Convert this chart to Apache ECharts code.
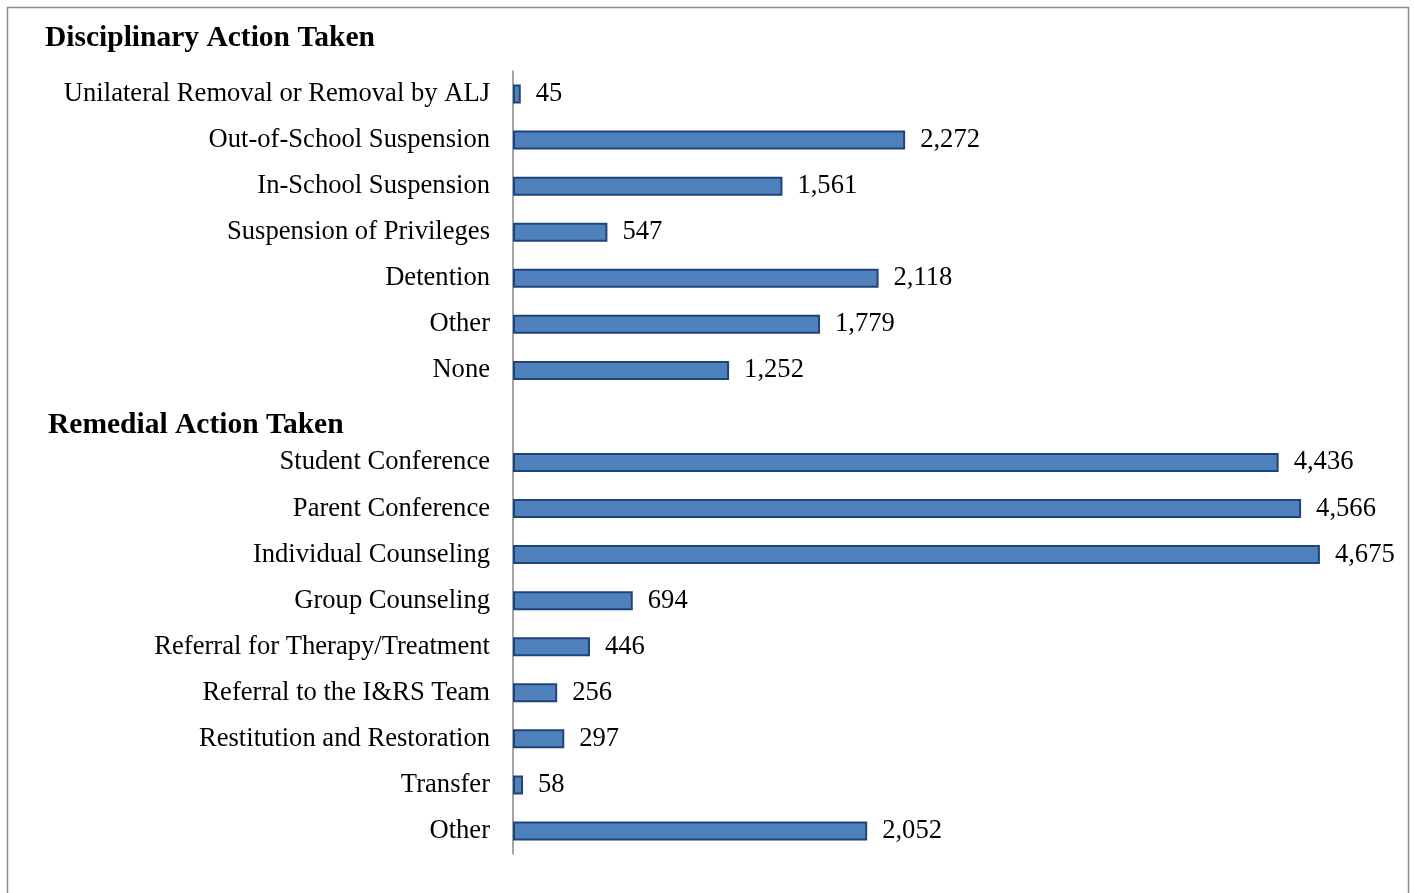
<!DOCTYPE html>
<html><head><meta charset="utf-8">
<script src="https://cdn.jsdelivr.net/npm/echarts@6/dist/echarts.min.js"></script>
<style>html,body{margin:0;padding:0;background:#fff}#c{width:1414px;height:893px}</style>
</head><body><div id="c"></div>
<script>
const categories = [
  "Unilateral Removal or Removal by ALJ",
  "Out-of-School Suspension",
  "In-School Suspension",
  "Suspension of Privileges",
  "Detention",
  "Other",
  "None",
  " ",
  "Student Conference",
  "Parent Conference",
  "Individual Counseling",
  "Group Counseling",
  "Referral for Therapy/Treatment",
  "Referral to the I&RS Team",
  "Restitution and Restoration",
  "Transfer",
  "Other "
];
const values = [45, 2272, 1561, 547, 2118, 1779, 1252, null, 4436, 4566, 4675, 694, 446, 256, 297, 58, 2052];
const sectionTitles = ["Disciplinary Action Taken", "Remedial Action Taken"];

const chart = echarts.init(document.getElementById('c'), null, {renderer: 'canvas'});
const font = '"Liberation Serif", "Times New Roman", serif';
chart.setOption({
  animation: false,
  textStyle: {fontFamily: font},
  graphic: [
    {type: 'rect', shape: {x: 7.5, y: 7.5, width: 1401, height: 1000},
     style: {fill: 'none', stroke: '#8c8c8c', lineWidth: 1.5}, silent: true}
  ],
  title: [
    {text: sectionTitles[0], left: 40, top: 18,
     textStyle: {fontFamily: font, fontSize: 29.5, fontWeight: 'bold', color: '#000'}},
    {text: sectionTitles[1], left: 43, top: 405,
     textStyle: {fontFamily: font, fontSize: 29.5, fontWeight: 'bold', color: '#000'}}
  ],
  grid: {left: 513, right: 38, top: 71, bottom: 39, containLabel: false},
  xAxis: {
    type: 'value', min: 0, max: 5000, show: false,
    splitLine: {show: false}
  },
  yAxis: {
    type: 'category', inverse: true, data: categories,
    axisLine: {show: true, lineStyle: {color: '#888', width: 1.5}},
    axisTick: {show: false},
    axisLabel: {color: '#000', fontSize: 26.6, fontFamily: font, margin: 23,
                formatter: v => v.trim()}
  },
  series: [{
    type: 'bar', data: values, barWidth: 19,
    itemStyle: {color: '#4F81BD', borderColor: '#1F4478', borderWidth: 2},
    label: {
      show: true, position: 'right', distance: 15, color: '#000',
      fontSize: 26.6, fontFamily: font,
      formatter: p => p.value == null ? '' : p.value.toLocaleString('en-US')
    }
  }]
});
</script></body></html>
